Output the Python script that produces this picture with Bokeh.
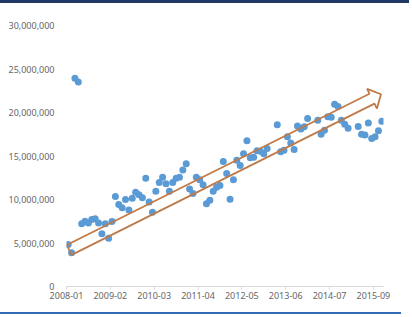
import math
from bokeh.plotting import figure
from bokeh.layouts import column
from bokeh.models import (FixedTicker, NumeralTickFormatter,
                          PolyAnnotation, ColumnDataSource, Div)
from bokeh.embed import file_html
from bokeh.resources import INLINE

# ---------------- data ----------------
# monthly values (millions), category index 0 = 2008-01; None = no value
values_m = [
    4.83, 3.87, 23.95, 23.5, 7.2, 7.5, 7.3, 7.7, 7.8, 7.3,
    6.05, 7.2, 5.56, 7.47, 10.35, 9.43, 9.04, 10.0, 8.8, 10.15,
    10.84, 10.54, 10.2, 12.45, 9.7, 8.54, 10.96, 11.95, 12.57, 11.8,
    10.96, 11.95, 12.45, 12.57, 13.4, 14.1, 11.2, 10.7, 12.57, 12.26,
    11.7, 9.5, 9.9, 10.96, 11.4, 11.6, 14.37, 13.0, 10.04, 12.26,
    14.5, 13.9, 15.25, 16.75, 14.8, 14.87, 15.6, 15.55, 15.25, 15.85,
    None, None, 18.6, 15.5, 15.65, 17.2, 16.5, 15.75, 18.45, 18.1,
    18.35, 19.3, None, None, 19.1, 17.5, 17.95, 19.5, 19.45, 20.95,
    20.7, 19.1, 18.65, 18.2, None, None, 18.4, 17.5, 17.4, 18.8,
    17.0, 17.2, 17.9, 19.0,
]
x_tick_labels = ["2008-01", "2009-02", "2010-03", "2011-04",
                 "2012-05", "2013-06", "2014-07", "2015-09"]
label_step = 13
y_ticks = [0, 5_000_000, 10_000_000, 15_000_000, 20_000_000, 25_000_000, 30_000_000]

# trend arrow (data coords: category index, value)
arrow_from = (0.3, 4.2e6)
arrow_to = (92.75, 22.1e6)

# ---------------- figure ----------------
n_cat = len(values_m)
X0, X1 = -0.5, n_cat - 0.5
Y0, Y1 = 0, 30_000_000
W, H = 412, 309
ML, MR, MT, MB = 66, 29, 22, 26

strip_css = {"background-color": "", "overflow": "hidden",
             "line-height": "0", "font-size": "0", "margin": "0", "padding": "0"}
top_bar = Div(text="", width=409, height=3, margin=0,
              styles=dict(strip_css, **{"background-color": "#1f3864"}))
bottom_line = Div(text="", width=401, height=2, margin=(0, 0, 0, 7),
                  styles=dict(strip_css, **{"background-color": "#2e6db4"}))

p = figure(width=W, height=H, output_backend="svg", toolbar_location=None,
           x_range=(X0, X1), y_range=(Y0, Y1), margin=0,
           min_border_left=ML, min_border_right=MR,
           min_border_top=MT, min_border_bottom=MB)
p.xgrid.visible = False
p.ygrid.visible = False
p.outline_line_color = None
p.background_fill_color = "white"
p.border_fill_color = "white"

xs = [i for i, v in enumerate(values_m) if v is not None]
ys = [v * 1e6 for v in values_m if v is not None]
src = ColumnDataSource(dict(x=xs, y=ys))
p.scatter("x", "y", source=src, size=7, fill_color="#5b9bd5",
          line_color=None)

# axes
tick_pos = [k * label_step - 0.5 for k in range(len(x_tick_labels))]
p.xaxis.ticker = FixedTicker(ticks=tick_pos)
p.xaxis.major_label_overrides = {t: l for t, l in zip(tick_pos, x_tick_labels)}
p.xaxis.axis_line_color = "#d9d9d9"
p.xaxis.major_tick_line_color = "#d9d9d9"
p.xaxis.major_tick_in = 0
p.xaxis.major_tick_out = 3
p.xaxis.minor_tick_line_color = None
p.xaxis.major_label_standoff = 2

p.yaxis.ticker = FixedTicker(ticks=y_ticks)
p.yaxis.formatter = NumeralTickFormatter(format="0,0")
p.yaxis.axis_line_color = None
p.yaxis.major_tick_line_color = None
p.yaxis.minor_tick_line_color = None
p.yaxis.major_tick_in = 0
p.yaxis.major_tick_out = 0
p.yaxis.major_label_standoff = 12

for ax in (p.xaxis, p.yaxis):
    ax.major_label_text_font = "Noto Sans"
    ax.major_label_text_font_size = "9px"
    ax.major_label_text_color = "#666666"

# ---------------- trend arrow ----------------
fw, fh = W - ML - MR, H - MT - MB
sx = fw / (X1 - X0)
sy = fh / (Y1 - Y0)
ax0, ay0 = arrow_from[0] * sx, arrow_from[1] * sy
ax1, ay1 = arrow_to[0] * sx, arrow_to[1] * sy
L = math.hypot(ax1 - ax0, ay1 - ay0)
ux, uy = (ax1 - ax0) / L, (ay1 - ay0) / L
nx, ny = -uy, ux
w, hw, hl = 5.5, 11.0, 10.0
pts = [
    (ax0 - nx * w, ay0 - ny * w),
    (ax0 + ux * (L - hl) - nx * w, ay0 + uy * (L - hl) - ny * w),
    (ax0 + ux * (L - hl) - nx * hw, ay0 + uy * (L - hl) - ny * hw),
    (ax1, ay1),
    (ax0 + ux * (L - hl) + nx * hw, ay0 + uy * (L - hl) + ny * hw),
    (ax0 + ux * (L - hl) + nx * w, ay0 + uy * (L - hl) + ny * w),
    (ax0 + nx * w, ay0 + ny * w),
]
arrow = PolyAnnotation(xs=[px / sx for px, _ in pts], ys=[py / sy for _, py in pts],
                       fill_alpha=0, line_color="#c07a48", line_alpha=1,
                       line_width=1.8)
p.add_layout(arrow)

layout = column(top_bar, p, bottom_line, spacing=0, margin=0)

open("out.html", "w").write(file_html(layout, INLINE))
